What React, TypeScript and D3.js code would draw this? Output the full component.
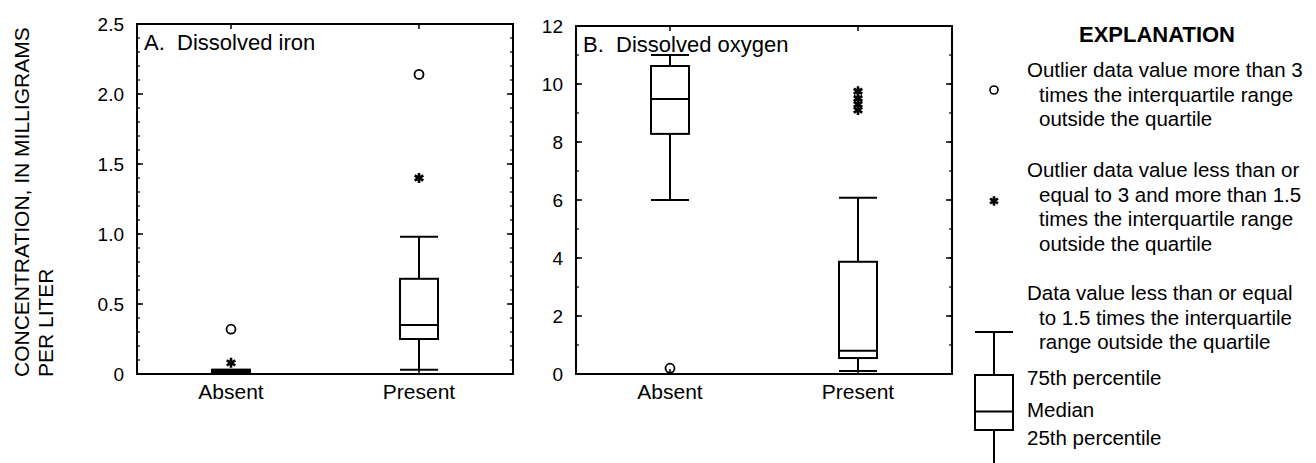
import React from 'react';
import * as d3 from 'd3';

// categories and box statistics: [low whisker, 25th, median, 75th, high whisker]
const categories = ['Absent', 'Present'];

const ironStats = [
  [0, 0, 0.01, 0.03, 0.03],
  [0.03, 0.25, 0.35, 0.68, 0.98],
];
const ironFarOutliers = [[0.32], [2.14]];
const ironNearOutliers = [[0.08], [1.4]];

const oxygenStats = [
  [6.0, 8.28, 9.48, 10.62, 11.0],
  [0.1, 0.55, 0.8, 3.87, 6.08],
];
const oxygenFarOutliers = [[0.2], []];
const oxygenNearOutliers = [[], [9.1, 9.3, 9.5, 9.75]];

const ironTicks = [0, 0.5, 1.0, 1.5, 2.0, 2.5];
const ironTickLabels = ['0', '0.5', '1.0', '1.5', '2.0', '2.5'];
const oxygenTicks = [0, 2, 4, 6, 8, 10, 12];
const oxygenTickLabels = ['0', '2', '4', '6', '8', '10', '12'];

const FONT = '"Liberation Sans", Arial, Helvetica, sans-serif';

const Panel = ({ left, right, top, bottom, yMax, ticks, tickLabels, minorStep, title, stats, far, near }) => {
  const x = d3.scaleBand().domain(categories).range([left, right]);
  const y = d3.scaleLinear().domain([0, yMax]).range([bottom, top]);
  const minor = d3.range(0, yMax + 1e-9, minorStep);
  const boxW = 38;
  const star = d3.symbol(d3.symbolAsterisk, 70)();

  return (
    <g>
      <rect x={left} y={top} width={right - left} height={bottom - top} fill="none" stroke="#000" strokeWidth={2} />
      {minor.map((v, i) => (
        <g key={'m' + i}>
          <line x1={left} x2={left + 3} y1={y(v)} y2={y(v)} stroke="#000" strokeWidth={1.2} />
          <line x1={right} x2={right - 3} y1={y(v)} y2={y(v)} stroke="#000" strokeWidth={1.2} />
        </g>
      ))}
      {ticks.map((v, i) => (
        <g key={'t' + i}>
          <line x1={left} x2={left + 6} y1={y(v)} y2={y(v)} stroke="#000" strokeWidth={1.5} />
          <line x1={right} x2={right - 6} y1={y(v)} y2={y(v)} stroke="#000" strokeWidth={1.5} />
          <text x={left - 13} y={y(v)} dy="0.36em" textAnchor="end" fontSize={19} fontFamily={FONT}>
            {tickLabels[i]}
          </text>
        </g>
      ))}
      {categories.map((c) => {
        const cx = x(c) + x.bandwidth() / 2;
        return (
          <g key={'c' + c}>
            <line x1={cx} x2={cx} y1={top} y2={top + 5} stroke="#000" strokeWidth={1.5} />
            <line x1={cx} x2={cx} y1={bottom} y2={bottom - 5} stroke="#000" strokeWidth={1.5} />
            <text x={cx} y={bottom + 25} textAnchor="middle" fontSize={21} fontFamily={FONT}>
              {c}
            </text>
          </g>
        );
      })}
      <text x={left + 7} y={top + 26} fontSize={22} fontFamily={FONT} style={{ whiteSpace: 'pre' }}>
        {title}
      </text>
      {stats.map((s, i) => {
        const cx = x(categories[i]) + x.bandwidth() / 2;
        const [lo, q1, med, q3, hi] = s;
        return (
          <g key={'b' + i} stroke="#000" strokeWidth={2} fill="none">
            <line x1={cx} x2={cx} y1={y(hi)} y2={y(q3)} />
            <line x1={cx} x2={cx} y1={y(q1)} y2={y(lo)} />
            <line x1={cx - boxW / 2} x2={cx + boxW / 2} y1={y(hi)} y2={y(hi)} />
            <line x1={cx - boxW / 2} x2={cx + boxW / 2} y1={y(lo)} y2={y(lo)} />
            <rect x={cx - boxW / 2} y={y(q3)} width={boxW} height={Math.max(y(q1) - y(q3), 1)} fill={y(q1) - y(q3) < 5 ? '#000' : 'none'} />
            <line x1={cx - boxW / 2} x2={cx + boxW / 2} y1={y(med)} y2={y(med)} />
            {far[i].map((v, j) => (
              <circle key={'f' + j} cx={cx} cy={y(v)} r={4.5} strokeWidth={1.8} />
            ))}
            {near[i].map((v, j) => (
              <path key={'n' + j} d={star} transform={`translate(${cx},${y(v)})`} strokeWidth={2.6} />
            ))}
          </g>
        );
      })}
    </g>
  );
};

const legendCircleText = ['Outlier data value more than 3', 'times the interquartile range', 'outside the quartile'];
const legendStarText = [
  'Outlier data value less than or',
  'equal to 3 and more than 1.5',
  'times the interquartile range',
  'outside the quartile',
];
const legendBoxText = ['Data value less than or equal', 'to 1.5 times the interquartile', 'range outside the quartile'];
const legendBoxLabels = ['75th percentile', 'Median', '25th percentile'];

const LegendLines = ({ lines, y0 }) => (
  <g>
    {lines.map((t, i) => (
      <text key={i} x={i === 0 ? 1027 : 1039} y={y0 + i * 24.5} dy="0.36em" fontSize={20.5} fontFamily={FONT}>
        {t}
      </text>
    ))}
  </g>
);

const Legend = () => {
  const star = d3.symbol(d3.symbolAsterisk, 60)();
  const bx = 994;
  const bw = 38;
  return (
    <g>
      <text x={1157} y={34} dy="0.36em" textAnchor="middle" fontSize={22} fontWeight="bold" fontFamily={FONT}>
        EXPLANATION
      </text>
      <circle cx={bx} cy={90} r={4} fill="none" stroke="#000" strokeWidth={1.6} />
      <LegendLines lines={legendCircleText} y0={70} />
      <path d={star} transform={`translate(${bx},201)`} stroke="#000" strokeWidth={2.6} />
      <LegendLines lines={legendStarText} y0={170} />
      <LegendLines lines={legendBoxText} y0={293} />
      <g stroke="#000" strokeWidth={2} fill="none">
        <line x1={bx - bw / 2} x2={bx + bw / 2} y1={332} y2={332} />
        <line x1={bx} x2={bx} y1={332} y2={375} />
        <rect x={bx - bw / 2} y={375} width={bw} height={55} />
        <line x1={bx - bw / 2} x2={bx + bw / 2} y1={411.5} y2={411.5} />
        <line x1={bx} x2={bx} y1={430} y2={463} />
      </g>
      {legendBoxLabels.map((t, i) => (
        <text key={t} x={1027} y={[378, 410, 438][i]} dy="0.36em" fontSize={20.5} fontFamily={FONT}>
          {t}
        </text>
      ))}
    </g>
  );
};

const App = () => {
  return (
    <svg width={1316} height={463} style={{ position: 'absolute', left: 0, top: 0, background: '#fff' }}>
      <g fontFamily={FONT} fontSize={21}>
        <text transform="translate(21,377) rotate(-90)" dy="0.36em">
          CONCENTRATION, IN MILLIGRAMS
        </text>
        <text transform="translate(45,377) rotate(-90)" dy="0.36em">
          PER LITER
        </text>
      </g>
      <Panel
        left={137}
        right={513}
        top={24}
        bottom={374}
        yMax={2.5}
        ticks={ironTicks}
        tickLabels={ironTickLabels}
        minorStep={0.1}
        title={'A.  Dissolved iron'}
        stats={ironStats}
        far={ironFarOutliers}
        near={ironNearOutliers}
      />
      <Panel
        left={576}
        right={952}
        top={26}
        bottom={374}
        yMax={12}
        ticks={oxygenTicks}
        tickLabels={oxygenTickLabels}
        minorStep={1}
        title={'B.  Dissolved oxygen'}
        stats={oxygenStats}
        far={oxygenFarOutliers}
        near={oxygenNearOutliers}
      />
      <Legend />
    </svg>
  );
};

export default App;
